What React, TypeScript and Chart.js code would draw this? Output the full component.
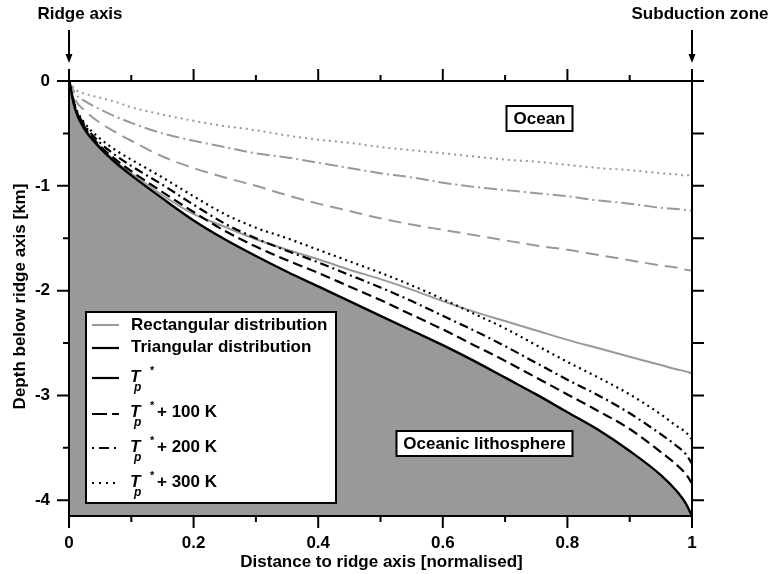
import { useEffect, useRef } from 'react';
import { Chart, registerables } from 'chart.js';

Chart.register(...registerables);

// ---- data ----
const distance = [0, 0.01, 0.025, 0.05, 0.075, 0.1, 0.15, 0.2, 0.25, 0.3, 0.35, 0.4, 0.45, 0.5, 0.55, 0.6, 0.65, 0.7, 0.75, 0.8, 0.85, 0.9, 0.95, 0.975, 0.99, 1];

const triTp0 = [0, -0.27, -0.46, -0.64, -0.78, -0.9, -1.12, -1.33, -1.51, -1.67, -1.82, -1.96, -2.1, -2.24, -2.38, -2.52, -2.67, -2.83, -2.99, -3.16, -3.33, -3.53, -3.76, -3.91, -4.03, -4.15];
const triTp100 = [0, -0.26, -0.44, -0.62, -0.75, -0.86, -1.06, -1.25, -1.43, -1.58, -1.71, -1.83, -1.96, -2.09, -2.23, -2.37, -2.52, -2.67, -2.83, -2.99, -3.15, -3.32, -3.54, -3.66, -3.75, -3.84];
const triTp200 = [0, -0.25, -0.42, -0.59, -0.71, -0.81, -0.99, -1.18, -1.36, -1.5, -1.62, -1.73, -1.85, -1.97, -2.1, -2.24, -2.38, -2.53, -2.69, -2.85, -3.0, -3.17, -3.37, -3.48, -3.56, -3.65];
const triTp300 = [0, -0.24, -0.4, -0.55, -0.66, -0.75, -0.92, -1.1, -1.27, -1.4, -1.5, -1.61, -1.72, -1.83, -1.95, -2.08, -2.22, -2.36, -2.52, -2.68, -2.83, -2.99, -3.18, -3.29, -3.35, -3.42];

const rectTp0 = [0, -0.27, -0.45, -0.63, -0.77, -0.88, -1.09, -1.27, -1.39, -1.51, -1.61, -1.7, -1.8, -1.89, -1.99, -2.1, -2.2, -2.29, -2.38, -2.47, -2.55, -2.63, -2.71, -2.75, -2.77, -2.79];
const rectTp100 = [0, -0.18, -0.28, -0.4, -0.49, -0.57, -0.72, -0.83, -0.92, -1.0, -1.09, -1.17, -1.24, -1.31, -1.37, -1.42, -1.47, -1.52, -1.57, -1.61, -1.66, -1.71, -1.76, -1.78, -1.8, -1.81];
const rectTp200 = [0, -0.12, -0.19, -0.27, -0.34, -0.4, -0.5, -0.57, -0.63, -0.69, -0.73, -0.78, -0.83, -0.88, -0.92, -0.97, -1.01, -1.04, -1.07, -1.1, -1.14, -1.17, -1.21, -1.22, -1.23, -1.24];
const rectTp300 = [0, -0.08, -0.12, -0.16, -0.2, -0.25, -0.32, -0.38, -0.43, -0.47, -0.52, -0.56, -0.59, -0.63, -0.66, -0.69, -0.72, -0.75, -0.77, -0.8, -0.83, -0.85, -0.88, -0.89, -0.9, -0.9];

const xTickValues = [0, 0.2, 0.4, 0.6, 0.8, 1];
const xTickLabels = ['0', '0.2', '0.4', '0.6', '0.8', '1'];
const xMinorTicks = [0.1, 0.3, 0.5, 0.7, 0.9];
const yTickValues = [0, -1, -2, -3, -4];
const yTickLabels = ['0', '-1', '-2', '-3', '-4'];
const yMinorTicks = [-0.5, -1.5, -2.5, -3.5];

const xTitle = 'Distance to ridge axis [normalised]';
const yTitle = 'Depth below ridge axis [km]';
const legendDistLabels = ['Rectangular distribution', 'Triangular distribution'];
const legendTpSuffix = ['', '+ 100 K', '+ 200 K', '+ 300 K'];
const topLabels = ['Ridge axis', 'Subduction zone'];
const regionLabels = ['Ocean', 'Oceanic lithosphere'];

const FONT = '"Liberation Sans", Arial, Helvetica, sans-serif';
const GRAY = '#999999';

const pts = (ys: number[]) => distance.map((x, i) => ({ x, y: ys[i] }));

const overlayPlugin = {
  id: 'overlay',
  afterDraw(chart: any) {
    const ctx: CanvasRenderingContext2D = chart.ctx;
    const sx = chart.scales.x;
    const sy = chart.scales.y;
    const { left, right, top, bottom } = chart.chartArea;
    ctx.save();
    ctx.strokeStyle = '#000';
    ctx.fillStyle = '#000';
    ctx.lineWidth = 2;
    ctx.setLineDash([]);
    // frame
    ctx.strokeRect(left, top, right - left, bottom - top);
    // ticks
    ctx.beginPath();
    const major = 12;
    const minor = 6;
    xTickValues.forEach((v) => {
      const px = sx.getPixelForValue(v);
      ctx.moveTo(px, top); ctx.lineTo(px, top - major);
      ctx.moveTo(px, bottom); ctx.lineTo(px, bottom + major);
    });
    xMinorTicks.forEach((v) => {
      const px = sx.getPixelForValue(v);
      ctx.moveTo(px, top); ctx.lineTo(px, top - minor);
      ctx.moveTo(px, bottom); ctx.lineTo(px, bottom + minor);
    });
    yTickValues.forEach((v) => {
      const py = sy.getPixelForValue(v);
      ctx.moveTo(left, py); ctx.lineTo(left - major, py);
      ctx.moveTo(right, py); ctx.lineTo(right + major, py);
    });
    yMinorTicks.forEach((v) => {
      const py = sy.getPixelForValue(v);
      ctx.moveTo(left, py); ctx.lineTo(left - minor, py);
      ctx.moveTo(right, py); ctx.lineTo(right + major, py);
    });
    ctx.stroke();

    // axis titles
    ctx.font = `bold 17px ${FONT}`;
    ctx.textAlign = 'center';
    ctx.textBaseline = 'middle';
    ctx.fillText(xTitle, (left + right) / 2 + 1, 562);
    ctx.save();
    ctx.translate(20, (top + bottom) / 2 - 2);
    ctx.rotate(-Math.PI / 2);
    ctx.fillText(yTitle, 0, 0);
    ctx.restore();

    // top labels and arrows
    const x0 = sx.getPixelForValue(0);
    const x1 = sx.getPixelForValue(1);
    ctx.fillText(topLabels[0], x0 + 11, 14);
    ctx.fillText(topLabels[1], x1 + 8, 14);
    [x0, x1].forEach((ax) => {
      ctx.beginPath();
      ctx.moveTo(ax, 30); ctx.lineTo(ax, 56);
      ctx.stroke();
      ctx.beginPath();
      ctx.moveTo(ax - 3.5, 54); ctx.lineTo(ax + 3.5, 54); ctx.lineTo(ax, 63);
      ctx.closePath();
      ctx.fill();
    });

    // region labels
    const box = (text: string, cx: number, cy: number, w: number, h: number) => {
      ctx.fillStyle = '#fff';
      ctx.fillRect(cx - w / 2, cy - h / 2, w, h);
      ctx.strokeStyle = '#000';
      ctx.lineWidth = 2;
      ctx.strokeRect(cx - w / 2, cy - h / 2, w, h);
      ctx.fillStyle = '#000';
      ctx.fillText(text, cx, cy + 1);
    };
    box(regionLabels[0], 539.5, 118.5, 66, 25);
    box(regionLabels[1], 484.5, 443.5, 176, 25);

    // legend
    ctx.fillStyle = '#fff';
    ctx.fillRect(86, 312, 250, 191);
    ctx.strokeStyle = '#000';
    ctx.lineWidth = 2;
    ctx.strokeRect(86, 312, 250, 191);
    const rowsY = [325, 347, 377, 412, 447, 482];
    const sample = (y: number, color: string, dash: number[], lw: number) => {
      ctx.save();
      ctx.strokeStyle = color;
      ctx.lineWidth = lw;
      ctx.setLineDash(dash);
      ctx.beginPath();
      ctx.moveTo(92, y); ctx.lineTo(119, y);
      ctx.stroke();
      ctx.restore();
    };
    sample(rowsY[0], GRAY, [], 2);
    sample(rowsY[1] + 1, '#000', [], 2.2);
    sample(rowsY[2] + 1, '#000', [], 2.2);
    sample(rowsY[3] + 2, '#000', [15, 5], 2.2);
    sample(rowsY[4] + 1, '#000', [2, 5, 10, 5], 2.2);
    sample(rowsY[5] + 1, '#000', [2, 5], 2.2);
    ctx.fillStyle = '#000';
    ctx.textAlign = 'left';
    ctx.textBaseline = 'middle';
    ctx.font = `bold 17px ${FONT}`;
    ctx.fillText(legendDistLabels[0], 131, rowsY[0]);
    ctx.fillText(legendDistLabels[1], 131, rowsY[1]);
    legendTpSuffix.forEach((suf, i) => {
      const y = rowsY[2 + i];
      ctx.textBaseline = 'middle';
      ctx.font = `italic bold 17px ${FONT}`;
      ctx.fillText('T', 130, y);
      ctx.textBaseline = 'alphabetic';
      ctx.font = `italic bold 12px ${FONT}`;
      ctx.fillText('p', 134, y + 14);
      ctx.font = `bold 11px ${FONT}`;
      ctx.fillText('*', 150, y - 3);
      if (suf) {
        ctx.textBaseline = 'middle';
        ctx.font = `bold 17px ${FONT}`;
        ctx.fillText(suf, 157, y);
      }
    });
    ctx.restore();
  },
};

export default function App() {
  const ref = useRef<HTMLCanvasElement | null>(null);
  useEffect(() => {
    if (!ref.current) return;
    const common = { pointRadius: 0, pointHoverRadius: 0, cubicInterpolationMode: 'monotone' as const, borderCapStyle: 'butt' as const };
    const chart = new Chart(ref.current, {
      type: 'line',
      data: {
        datasets: [
          { ...common, label: 'Tp*', data: pts(triTp0), borderColor: '#000', borderWidth: 2.4, fill: 'start', backgroundColor: GRAY },
          { ...common, label: 'Tp* + 100 K', data: pts(triTp100), borderColor: '#000', borderWidth: 2.2, borderDash: [10, 5], fill: false },
          { ...common, label: 'Tp* + 200 K', data: pts(triTp200), borderColor: '#000', borderWidth: 2.2, borderDash: [9, 4, 2, 4], fill: false },
          { ...common, label: 'Tp* + 300 K', data: pts(triTp300), borderColor: '#000', borderWidth: 2.2, borderDash: [2, 4], fill: false },
          { ...common, label: 'Rect Tp*', data: pts(rectTp0), borderColor: GRAY, borderWidth: 2, fill: false },
          { ...common, label: 'Rect Tp* + 100 K', data: pts(rectTp100), borderColor: GRAY, borderWidth: 2, borderDash: [13, 7], fill: false },
          { ...common, label: 'Rect Tp* + 200 K', data: pts(rectTp200), borderColor: GRAY, borderWidth: 2, borderDash: [13, 4, 2, 4], fill: false },
          { ...common, label: 'Rect Tp* + 300 K', data: pts(rectTp300), borderColor: GRAY, borderWidth: 2, borderDash: [2, 4], fill: false },
        ],
      },
      options: {
        responsive: false,
        animation: false,
        devicePixelRatio: 1,
        layout: { padding: { left: 0, right: 80, top: 81, bottom: 0 } },
        plugins: {
          legend: { display: false },
          tooltip: { enabled: false },
          filler: { drawTime: 'beforeDatasetsDraw', propagate: false },
        },
        scales: {
          x: {
            type: 'linear',
            min: 0,
            max: 1,
            grid: { display: false, drawTicks: false },
            border: { display: false },
            afterBuildTicks: (s: any) => { s.ticks = xTickValues.map((v) => ({ value: v })); },
            afterFit: (s: any) => { s.height = 58; },
            ticks: {
              padding: 17,
              color: '#000',
              autoSkip: false,
              maxRotation: 0,
              font: { family: FONT, size: 17, weight: 'bold' },
              callback: (_v: any, i: number) => xTickLabels[i],
            },
          },
          y: {
            type: 'linear',
            min: -4.15,
            max: 0,
            grid: { display: false, drawTicks: false },
            border: { display: false },
            afterBuildTicks: (s: any) => { s.ticks = yTickValues.map((v) => ({ value: v })); },
            afterFit: (s: any) => { s.width = 69; },
            ticks: {
              padding: 19,
              color: '#000',
              autoSkip: false,
              font: { family: FONT, size: 17, weight: 'bold' },
              callback: (_v: any, i: number) => yTickLabels[i],
            },
          },
        },
      } as any,
      plugins: [overlayPlugin],
    });
    return () => chart.destroy();
  }, []);
  return (
    <div style={{ position: 'absolute', left: 0, top: 0, width: 772, height: 574, background: '#fff' }}>
      <canvas ref={ref} width={772} height={574} style={{ display: 'block' }} />
    </div>
  );
}
